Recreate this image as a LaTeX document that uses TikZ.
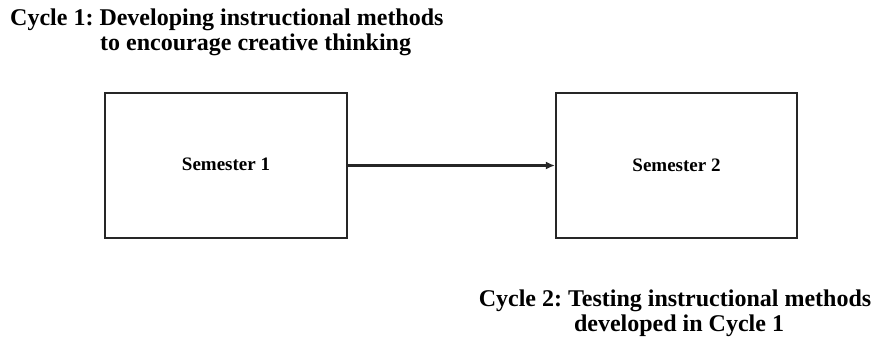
\documentclass[tikz,border=0pt]{standalone}
\usepackage{fontspec}
\setmainfont{Liberation Serif}
\usetikzlibrary{arrows.meta}
\begin{document}
\frenchspacing
\begin{tikzpicture}[x=1pt,y=-1pt,
  box/.style={draw=black!85, line width=2.2pt, minimum width=242pt, minimum height=145pt,
    inner sep=0pt, font=\fontsize{19}{22}\selectfont\bfseries},
  captext/.style={font=\fontsize{24}{27}\selectfont\bfseries, inner sep=0pt},
  conn/.style={draw=black!85, line width=2.2pt, -{Latex[length=9pt,width=8pt]}}]
\useasboundingbox[fill=white] (0,0) rectangle (874,337);
\node[captext, anchor=base west] (t1) at (10,26) {Cycle 1: Developing instructional methods};
\node[captext, anchor=base west] (t2) at (100,51) {to encourage creative thinking};
\node[box] (s1) at (226,165.5) {\raisebox{3pt}{Semester 1}};
\node[box, minimum width=241pt] (s2) at (676.5,165.5) {\raisebox{-1pt}{Semester 2}};
\draw[conn] (s1.east) -- (s2.west);
\node[captext, anchor=base] (b1) at (675,306) {Cycle 2: Testing instructional methods};
\node[captext, anchor=base] (b2) at (679,331) {developed in Cycle 1};
\end{tikzpicture}
\end{document}
